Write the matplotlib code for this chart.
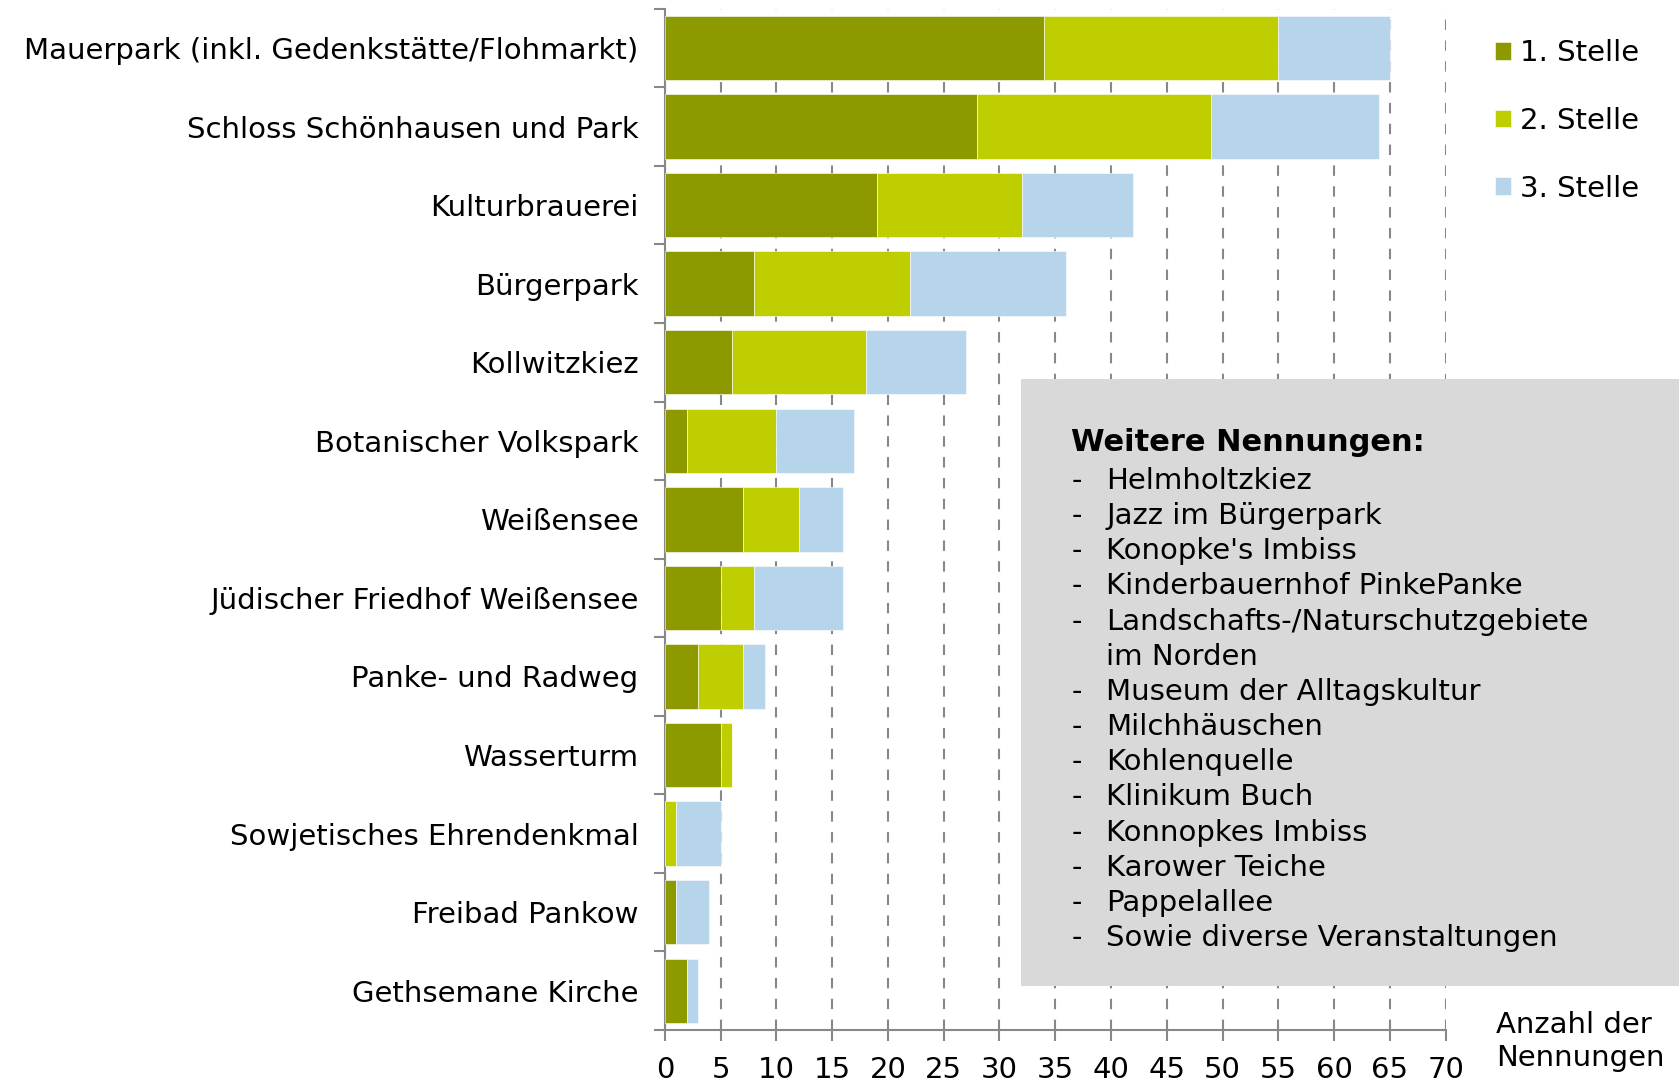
import matplotlib.pyplot as plt
from matplotlib.patches import Rectangle
from matplotlib.ticker import MultipleLocator, FixedLocator

# Data
orte = ['Mauerpark (inkl. Gedenkstätte/Flohmarkt)', 'Schloss Schönhausen und Park',
        'Kulturbrauerei', 'Bürgerpark', 'Kollwitzkiez', 'Botanischer Volkspark',
        'Weißensee', 'Jüdischer Friedhof Weißensee', 'Panke- und Radweg',
        'Wasserturm', 'Sowjetisches Ehrendenkmal', 'Freibad Pankow', 'Gethsemane Kirche']
stelle1 = [34, 28, 19, 8, 6, 2, 7, 5, 3, 5, 0, 1, 2]
stelle2 = [21, 21, 13, 14, 12, 8, 5, 3, 4, 1, 1, 0, 0]
stelle3 = [10, 15, 10, 14, 9, 7, 4, 8, 2, 0, 4, 3, 1]
serien = ['1. Stelle', '2. Stelle', '3. Stelle']
farben = ['#8C9A00', '#BFCE00', '#B6D4EA']
weitere = ['Helmholtzkiez', 'Jazz im Bürgerpark', "Konopke's Imbiss",
           'Kinderbauernhof PinkePanke', 'Landschafts-/Naturschutzgebiete', 'im Norden',
           'Museum der Alltagskultur', 'Milchhäuschen', 'Kohlenquelle', 'Klinikum Buch',
           'Konnopkes Imbiss', 'Karower Teiche', 'Pappelallee', 'Sowie diverse Veranstaltungen']

plt.rcParams['font.family'] = ['DejaVu Sans']
fs = 21
grau = '#888888'

fig = plt.figure(figsize=(16.79, 10.82), dpi=100)
ax = fig.add_axes([0.396, 0.048, 0.465, 0.944])

y = list(range(len(orte)))
links = [0] * len(orte)
for werte, name, farbe in zip([stelle1, stelle2, stelle3], serien, farben):
    ax.barh(y, werte, left=links, height=0.82, color=farbe, label=name,
            edgecolor='white', linewidth=0.4, zorder=3)
    links = [a + b for a, b in zip(links, werte)]

ax.set_ylim(len(orte) - 0.5, -0.5)
ax.set_xlim(0, 70)
ax.xaxis.set_major_locator(MultipleLocator(5))
ax.set_yticks(y)
ax.set_yticklabels(orte, fontsize=fs)
ax.yaxis.set_minor_locator(FixedLocator([i - 0.5 for i in range(len(orte) + 1)]))
ax.tick_params(axis='y', which='major', length=0, pad=19)
ax.tick_params(axis='y', which='minor', length=8, width=1.5, color=grau)
ax.tick_params(axis='x', length=8, width=1.5, color=grau, labelsize=fs, pad=11)

ax.grid(axis='x', color=grau, linestyle=(0, (5, 5)), linewidth=1.5, zorder=0)
ax.set_axisbelow(True)
for s in ['top', 'right']:
    ax.spines[s].set_visible(False)
for s in ['left', 'bottom']:
    ax.spines[s].set_color(grau)
    ax.spines[s].set_linewidth(1.5)

fig.text(0.891, 0.066, 'Anzahl der\nNennungen', fontsize=fs, ha='left', va='top',
         linespacing=1.25)

fig.legend(loc='upper left', bbox_to_anchor=(0.875, 0.988), frameon=False, fontsize=fs,
           handlelength=0.55, handleheight=0.55, handletextpad=0.3, labelspacing=1.36)

# Textbox "Weitere Nennungen"
fig.patches.append(Rectangle((0.608, 0.0887), 0.392, 0.5613, transform=fig.transFigure,
                             facecolor='#D9D9D9', edgecolor='none', zorder=5))
fig.text(0.638, 0.5906, 'Weitere Nennungen:', fontsize=22, fontweight='bold',
         va='center', zorder=6)
zeile = 0.5555
for eintrag in weitere:
    if eintrag != 'im Norden':
        fig.text(0.638, zeile, '-', fontsize=fs, va='center', zorder=6)
    fig.text(0.659, zeile, eintrag, fontsize=fs, va='center', zorder=6)
    zeile -= 0.0325

fig.savefig('out.png', dpi=100)
